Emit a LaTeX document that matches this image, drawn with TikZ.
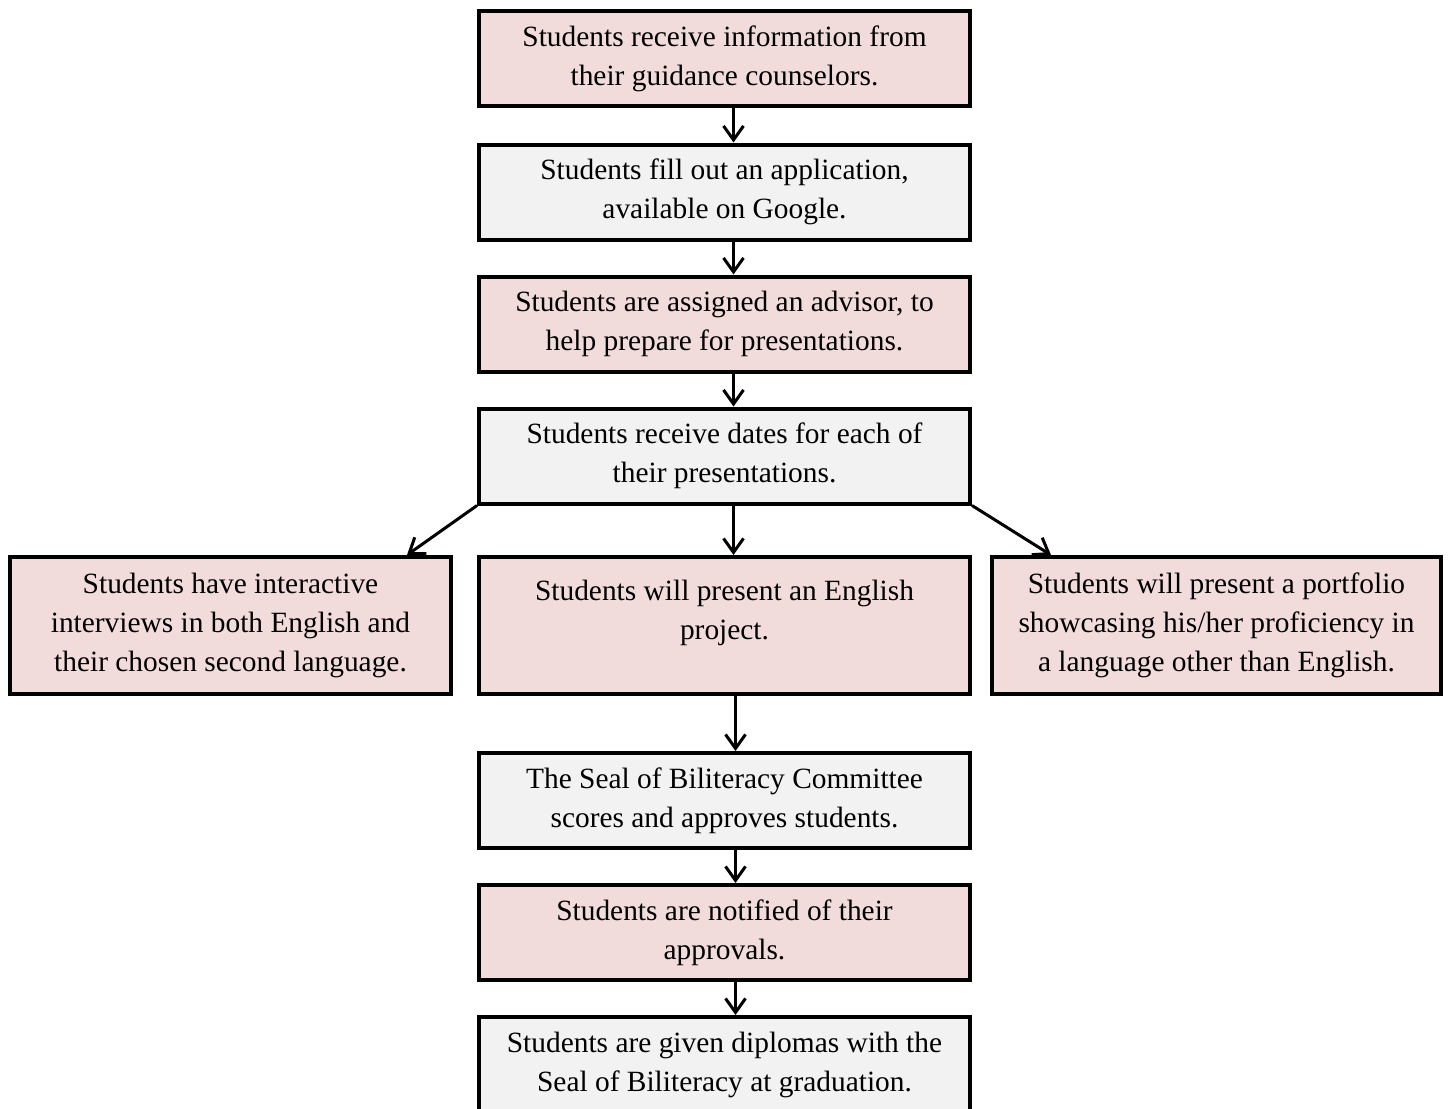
\documentclass[tikz,border=0pt]{standalone}
\usepackage{fontspec}
\setmainfont{Liberation Serif}
\usetikzlibrary{arrows.meta}
\definecolor{stepPink}{HTML}{F2DCDB}
\definecolor{stepGrey}{HTML}{F2F2F2}

\begin{document}
\begin{tikzpicture}[
    x=0.5pt, y=-0.5pt,
    >={Straight Barb[length=7pt,width=10pt]},
    every node/.style={font=\fontsize{14.7}{19.5}\selectfont, align=center, inner sep=0pt},
    stepbox/.style={draw=black, line width=2pt, minimum width=245.5pt, minimum height=47.5pt},
    tallbox/.style={stepbox, minimum height=68.5pt},
    pinkbox/.style={fill=stepPink},
    greybox/.style={fill=stepGrey},
    flow/.style={->, line width=1.5pt}
    ]

    \useasboundingbox (0,0) rectangle (1448,1109);
    \clip (0,0) rectangle (1448,1109);

    % main column
    \node[stepbox, pinkbox] (info) at (724.5,58.5)
        {Students receive information from\\their guidance counselors.};
    \node[stepbox, greybox] (apply) at (724.5,192)
        {Students fill out an application,\\available on Google.};
    \node[stepbox, pinkbox] (advisor) at (724.5,324)
        {Students are assigned an advisor, to\\help prepare for presentations.};
    \node[stepbox, greybox] (dates) at (724.5,456)
        {Students receive dates for each of\\their presentations.};

    % the three presentations
    \node[tallbox, pinkbox, minimum width=220.5pt] (interview) at (230.5,625.5)
        {Students have interactive\\interviews in both English and\\their chosen second language.};
    \node[tallbox, pinkbox] (project) at (724.5,625.5)
        {Students will present an English\\project.\\[-4pt]\mbox{}};
    \node[tallbox, pinkbox, minimum width=224.5pt] (portfolio) at (1216.5,625.5)
        {Students will present a portfolio\\showcasing his/her proficiency in\\a language other than English.};

    \node[stepbox, greybox] (committee) at (724.5,800.5)
        {The Seal of Biliteracy Committee\\scores and approves students.};
    \node[stepbox, pinkbox] (notify) at (724.5,932.5)
        {Students are notified of their\\approvals.};
    \node[stepbox, greybox] (diploma) at (724.5,1064.5)
        {Students are given diplomas with the\\Seal of Biliteracy at graduation.};

    \draw[flow] ([xshift=4.5pt]info.south) -- ([xshift=4.5pt]apply.north);
    \draw[flow] ([xshift=4.5pt]apply.south) -- ([xshift=4.5pt]advisor.north);
    \draw[flow] ([xshift=4.5pt]advisor.south) -- ([xshift=4.5pt]dates.north);
    \draw[flow] (dates.south west) -- ([xshift=-23pt]interview.north east);
    \draw[flow] ([xshift=4.5pt]dates.south) -- ([xshift=4.5pt]project.north);
    \draw[flow] (dates.south east) -- ([xshift=30.5pt]portfolio.north west);
    \draw[flow] ([xshift=5.5pt]project.south) -- ([xshift=5.5pt]committee.north);
    \draw[flow] ([xshift=5.5pt]committee.south) -- ([xshift=5.5pt]notify.north);
    \draw[flow] ([xshift=5.5pt]notify.south) -- ([xshift=5.5pt]diploma.north);

\end{tikzpicture}
\end{document}
